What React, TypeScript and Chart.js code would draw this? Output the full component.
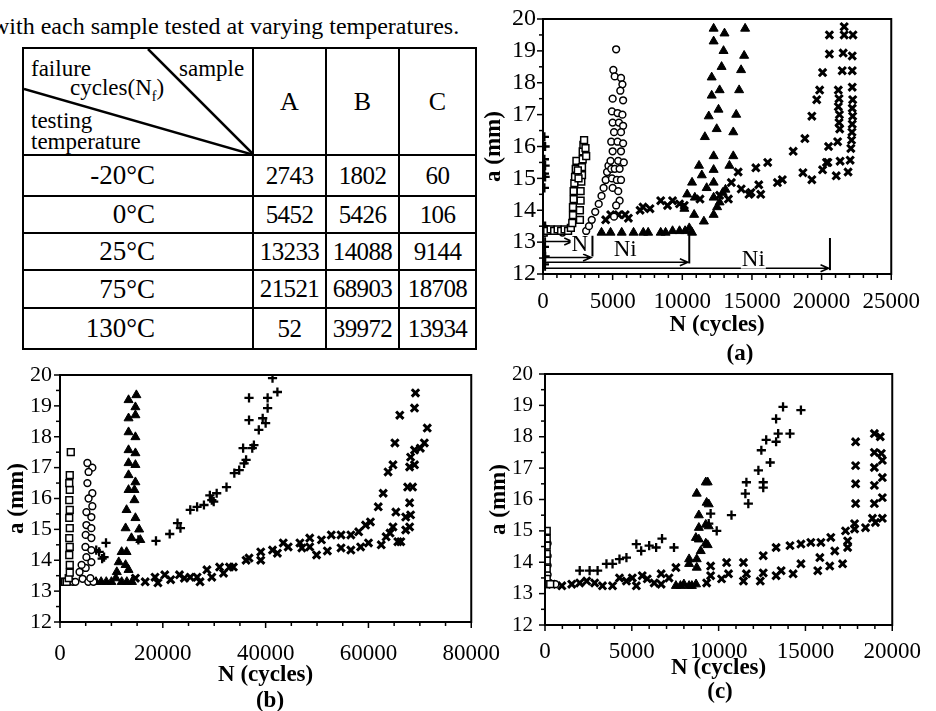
import React, { useEffect, useRef } from "react";
import { Chart, registerables } from "chart.js";

Chart.register(...registerables);

const FONT = '"Liberation Serif", "DejaVu Serif", serif';

type Pt = [number, number];

// ---------- Table data ----------
const introText = "with each sample tested at varying temperatures.";
const temperatures = ["-20°C", "0°C", "25°C", "75°C", "130°C"];
const samples = ["A", "B", "C"];
const failureCyclesA = [2743, 5452, 13233, 21521, 52];
const failureCyclesB = [1802, 5426, 14088, 68903, 39972];
const failureCyclesC = [60, 106, 9144, 18708, 13934];

// ---------- Axis ticks ----------
const yMin = 12;
const yMax = 20;
const xMaxA = 25000;
const xMaxB = 80000;
const xMaxC = 20000;

// ---------- Sample A (panel a) ----------
const sampleA_m20: Pt[] = [
  [50, 13.3], [300, 13.35], [550, 13.4], [800, 13.35], [1050, 13.4], [1300, 13.35], [1550, 13.4], [1800, 13.35], [2000, 13.45],
  [2100, 13.6], [2150, 13.85], [2150, 14.1], [2200, 14.35], [2200, 14.6], [2250, 14.85], [2300, 15.05], [2350, 15.3], [2400, 15.55],
  [2650, 13.7], [2650, 14.0], [2700, 14.3], [2700, 14.6], [2750, 14.9], [2800, 15.1], [2800, 15.35], [2850, 15.6], [2850, 15.85],
  [2900, 16.05], [2950, 16.2], [3050, 15.95], [3100, 15.7], [2550, 15.0], [2500, 15.25],
];
const sampleA_0: Pt[] = [
  [100, 13.3], [700, 13.35], [1400, 13.3],
  [3100, 13.35], [3300, 13.5], [3500, 13.7], [3750, 13.95], [4000, 14.2], [4200, 14.45], [4350, 14.7], [4500, 14.95], [4600, 15.2],
  [4700, 15.4], [4850, 15.55], [4900, 15.3], [4950, 15.0], [5000, 14.7], [5250, 19.05], [5050, 18.4], [5150, 18.2], [5600, 18.15],
  [5700, 17.95], [5000, 17.5], [5550, 17.75], [5750, 17.45], [4950, 17.1], [5350, 17.05], [5700, 17.0], [5000, 16.75], [5450, 16.75],
  [5750, 16.65], [5100, 16.45], [5600, 16.45], [4900, 16.15], [5350, 16.15], [5750, 16.1], [5000, 15.85], [5600, 15.85], [5400, 15.55],
  [5800, 15.5], [5150, 15.3], [5500, 15.3], [5300, 14.95], [5600, 14.95], [5400, 14.6], [5500, 14.3], [5250, 14.15], [5100, 13.8],
];
const sampleA_25: Pt[] = [
  [4200, 13.3], [4850, 13.3], [5650, 13.3], [6500, 13.3], [7200, 13.3], [7550, 13.3], [8450, 13.3], [8800, 13.3], [9300, 13.35],
  [9800, 13.35], [10200, 13.35], [10700, 13.3], [10500, 13.44], [10850, 13.86], [10150, 14.05], [11550, 13.65], [12250, 13.86],
  [10350, 14.5], [10900, 14.4], [11750, 14.7], [12250, 14.4], [12680, 14.25], [10700, 14.87], [12250, 14.87], [11200, 15.4],
  [11400, 15.1], [12250, 15.27], [13380, 15.4], [12250, 15.7], [13660, 15.7], [11620, 16.3], [13660, 16.45], [12470, 16.55],
  [11900, 16.95], [12600, 17.16], [13870, 17.0], [12110, 17.6], [12680, 17.77], [14080, 17.77], [12110, 18.17], [12820, 18.5],
  [14220, 18.4], [12960, 19.0], [14440, 18.85], [12250, 19.3], [12250, 19.7], [13030, 19.55], [14510, 19.7], [12900, 14.55],
  [13100, 14.65], [12500, 14.1],
];
const sampleA_75: Pt[] = [
  [4500, 13.7], [4860, 13.86], [5420, 13.86], [5900, 13.86], [6130, 13.75], [6970, 14.0], [7180, 14.1], [7680, 14.05], [8450, 14.3],
  [8940, 14.15], [9300, 14.3], [9800, 14.2], [10140, 14.15], [11270, 14.35], [12680, 14.47], [13310, 14.35], [13520, 14.87],
  [14010, 15.2], [14230, 14.67], [14790, 14.5], [14930, 14.56], [15280, 15.33], [15490, 14.8], [15630, 14.5], [16130, 15.5],
  [16830, 14.87], [17180, 14.96], [17960, 15.85], [18660, 15.18], [18800, 16.25], [19300, 14.96], [19300, 16.95], [19650, 17.47],
  [19860, 17.77], [20070, 18.32], [20070, 15.27], [20350, 15.5], [20560, 19.5], [20560, 18.9], [20500, 16.0], [20450, 15.5],
  [21620, 19.76], [21620, 19.5], [21550, 18.93], [21480, 18.38], [21200, 17.77], [21250, 17.5], [21200, 17.25], [21280, 17.0],
  [21250, 16.75], [21300, 16.55], [21150, 16.15], [21330, 15.54], [21050, 15.08], [22250, 19.5], [22200, 18.84], [22200, 18.38],
  [22200, 17.86], [22230, 17.47], [22200, 17.2], [22230, 16.95], [22200, 16.7], [22180, 16.45], [22150, 16.2], [22100, 15.94],
  [22050, 15.57], [21900, 15.2],
];
const sampleA_130: Pt[] = [
  [100, 16.3], [150, 16.0], [100, 15.6], [150, 15.4], [100, 15.15], [150, 15.05], [100, 14.7], [150, 13.5], [100, 13.3],
  [200, 13.4], [100, 12.85], [150, 12.55], [100, 12.3],
];

// Crack initiation (Ni) markers of panel (a)
const niArrowStartA = 150;
const niArrowEndA = [2100, 3450, 10400, 20500];
const niArrowLevelA = [13.02, 12.52, 12.37, 12.18];
const niBarXA = [150, 3550, 10500, 20600];
const niBarLowA = [12.1, 12.55, 12.33, 12.12];
const niBarHighA = [13.15, 13.2, 13.35, 13.13];
const niLabelTextA = ["N", "Ni", "Ni"];
const niLabelXA = [2650, 5900, 15100];
const niLabelYA = [12.92, 12.75, 12.45];

// ---------- Sample B (panel b) ----------
const sampleB_m20: Pt[] = [
  [380, 13.3], [700, 13.3], [1000, 13.3], [1300, 13.3], [1700, 13.42], [1900, 13.6], [1900, 13.85], [1800, 14.17], [1900, 14.43],
  [1800, 14.72], [1900, 15.04], [1800, 15.37], [1900, 15.63], [1800, 15.95], [1900, 16.28], [1800, 16.5], [1900, 16.76], [2100, 17.5],
];
const sampleB_0: Pt[] = [
  [2500, 13.3], [3000, 13.3], [4400, 13.4], [5500, 13.3], [6500, 13.3], [5330, 17.15], [6290, 17.0], [5560, 16.86], [5330, 16.5],
  [6290, 16.17], [5560, 16.0], [6290, 15.75], [5140, 15.56], [6100, 15.4], [5140, 15.14], [6100, 15.04], [5000, 14.82],
  [6100, 14.72], [4950, 14.43], [6100, 14.33], [5140, 14.1], [6100, 13.94], [5000, 13.75], [4200, 13.85], [3800, 13.62], [5900, 13.42],
];
const sampleB_25: Pt[] = [
  [6000, 13.3], [7000, 13.3], [8000, 13.3], [9000, 13.3], [10000, 13.3], [12000, 13.3], [13000, 13.3], [14000, 13.3],
  [10860, 13.42], [11050, 13.62], [13335, 13.69], [12760, 13.85], [11430, 13.94], [11990, 14.27], [12950, 14.27], [13900, 14.72],
  [15620, 14.66], [15400, 15.0], [12760, 15.04], [14670, 15.37], [12950, 15.63], [14480, 15.95], [14480, 16.28], [13335, 16.28],
  [14670, 16.53], [13335, 16.76], [14670, 17.09], [13335, 17.15], [14670, 17.47], [13335, 17.57], [14670, 17.99], [13335, 18.15],
  [13335, 18.6], [14670, 18.7], [14670, 18.96], [13335, 19.19], [14860, 19.35],
];
const sampleB_75: Pt[] = [
  [14670, 13.42], [16570, 13.3], [18480, 13.45], [19050, 13.27], [20380, 13.53], [21530, 13.37], [23240, 13.53], [24190, 13.42],
  [25340, 13.45], [26670, 13.45], [27240, 13.3], [28580, 13.69], [29530, 13.45], [31050, 13.78], [31810, 13.58], [32960, 13.78],
  [33720, 13.78], [36200, 14.0], [36770, 14.07], [39050, 14.27], [39050, 14.0], [41340, 14.33], [42290, 14.23], [43430, 14.56],
  [44390, 14.43], [46670, 14.56], [47050, 14.4], [48580, 14.72], [48580, 14.43], [49910, 14.17], [50860, 14.66], [52010, 14.3],
  [52770, 14.82], [54670, 14.4], [54670, 14.82], [56580, 14.33], [56580, 14.82], [58480, 14.43], [58100, 14.92], [59440, 15.14],
  [60010, 14.56], [60390, 15.24], [61910, 15.73], [62490, 14.5], [62870, 16.17], [63440, 14.76], [64200, 14.88], [63820, 16.86],
  [64770, 17.09], [65150, 17.8], [64770, 15.08], [65340, 15.56], [65720, 14.6], [66290, 14.6], [66100, 18.7], [67250, 15.4],
  [67250, 14.98], [67630, 16.37], [68580, 16.37], [68010, 17.02], [68960, 17.09], [68200, 17.34], [68960, 17.57], [68960, 18.93],
  [69150, 19.42], [68010, 15.86], [68200, 15.47], [68010, 15.08], [70100, 17.63], [70870, 17.8], [71440, 18.28],
];
const sampleB_130: Pt[] = [
  [7050, 14.33], [7620, 14.27], [8570, 14.1], [8950, 14.56], [8200, 14.05], [15240, 14.66], [18670, 14.63], [21340, 14.85],
  [22860, 15.2], [23430, 15.04], [25340, 15.63], [26670, 15.73], [28000, 15.79], [29150, 16.1], [29530, 15.95], [30480, 16.17],
  [29900, 15.9], [32390, 16.37], [33910, 16.82], [34860, 16.92], [35810, 17.14], [35620, 17.63], [36200, 17.25], [36770, 18.54],
  [36770, 19.26], [37720, 17.73], [37400, 17.63], [38670, 18.22], [39430, 18.6], [40000, 18.44], [40390, 18.93], [40390, 19.26],
  [41340, 19.9], [42290, 19.45],
];

// ---------- Sample C (panel c) ----------
const sampleC_m20: Pt[] = [
  [100, 15.0], [100, 14.75], [100, 14.53], [100, 14.27], [100, 14.05], [100, 13.8], [100, 13.47], [100, 13.3], [300, 13.3],
];
const sampleC_0: Pt[] = [
  [150, 14.6], [150, 14.2], [150, 13.9], [150, 13.6], [250, 13.35], [600, 13.3],
];
const sampleC_25: Pt[] = [
  [7540, 13.25], [7800, 13.25], [8000, 13.3], [8300, 13.25], [8460, 13.25], [8700, 13.3], [8740, 13.83], [8300, 13.95],
  [8300, 14.1], [8740, 14.1], [8970, 14.36], [9370, 14.55], [9260, 14.6], [8860, 14.73], [8690, 14.78], [9430, 15.15], [9260, 15.2],
  [8860, 15.1], [8860, 15.5], [9430, 15.85], [9310, 15.9], [8740, 16.19], [9260, 16.55], [9370, 16.55],
];
const sampleC_75: Pt[] = [
  [400, 13.3], [970, 13.25], [1540, 13.3], [2000, 13.34], [2400, 13.4], [2860, 13.34], [3310, 13.25], [3890, 13.25], [4290, 13.5],
  [4690, 13.4], [5030, 13.5], [5260, 13.25], [5600, 13.57], [5890, 13.47], [6290, 13.34], [6690, 13.63], [6690, 13.3], [7140, 13.5],
  [7540, 13.83], [9310, 13.34], [9540, 13.57], [9540, 13.88], [10170, 13.47], [10460, 13.99], [10570, 13.63], [11430, 13.4],
  [11430, 13.99], [11600, 13.63], [12400, 13.4], [12570, 14.21], [12570, 13.66], [13310, 13.57], [13310, 14.47], [13600, 13.73],
  [14110, 14.53], [14290, 13.63], [14740, 14.58], [14740, 13.95], [15310, 14.63], [15710, 13.73], [15890, 14.63], [15830, 14.15],
  [16400, 13.88], [16460, 14.79], [16690, 14.36], [17140, 13.95], [17310, 15.0], [17430, 14.68], [17430, 14.47], [17830, 15.06],
  [17890, 17.84], [17890, 17.08], [17890, 16.5], [17890, 15.87], [17830, 15.23], [18460, 15.1], [18860, 15.4], [18970, 18.1],
  [18970, 17.5], [18970, 17.02], [18970, 16.45], [18970, 15.87], [19030, 15.27], [19310, 18.0], [19370, 17.47], [19430, 17.25],
  [19430, 16.7], [19430, 16.06], [19430, 15.4],
];
const sampleC_130: Pt[] = [
  [2000, 13.73], [2570, 13.73], [3030, 13.73], [3540, 13.95], [3890, 13.95], [4290, 14.1], [4690, 14.15], [5260, 14.58],
  [5540, 14.36], [6000, 14.53], [6400, 14.47], [6740, 14.75], [7430, 14.47], [9540, 15.55], [9430, 15.23], [9890, 15.0],
  [10740, 15.5], [11540, 16.19], [11710, 15.87], [11600, 16.55], [12290, 16.93], [12570, 16.38], [12570, 16.55], [12460, 17.57],
  [12740, 17.9], [12970, 17.18], [13310, 17.84], [13430, 18.1], [13310, 18.57], [13710, 18.95], [14110, 18.1], [14740, 18.85],
];

// ---------- Marker styles, one per testing temperature ----------
const markerStyles = [
  { pointStyle: "rect", radius: 4.8, fill: "#ffffff", width: 1.5 },
  { pointStyle: "circle", radius: 3.4, fill: "#ffffff", width: 1.5 },
  { pointStyle: "triangle", radius: 5.2, fill: "#000000", width: 1 },
  { pointStyle: "crossRot", radius: 5.2, fill: "#000000", width: 3 },
  { pointStyle: "cross", radius: 4.6, fill: "#000000", width: 2.3 },
];

function makeDatasets(series: Pt[][]) {
  return series.map((pts, i) => ({
    label: temperatures[i],
    data: pts.map(([x, y]) => ({ x, y })),
    showLine: false,
    pointStyle: markerStyles[i].pointStyle as any,
    pointRadius: markerStyles[i].radius,
    pointHoverRadius: markerStyles[i].radius,
    pointBackgroundColor: markerStyles[i].fill,
    pointBorderColor: "#000000",
    pointBorderWidth: markerStyles[i].width,
  }));
}

// Frame + outward tick marks (major / minor)
const frameTicksPlugin = {
  id: "frameTicks",
  afterDraw(chart: any, _args: any, opts: any) {
    const { ctx, chartArea: ca, scales } = chart;
    const xs = scales.x;
    const ys = scales.y;
    ctx.save();
    ctx.strokeStyle = "#000";
    ctx.lineWidth = 2;
    ctx.strokeRect(ca.left, ca.top, ca.right - ca.left, ca.bottom - ca.top);
    ctx.lineWidth = 1.5;
    const nx = Math.round((xs.max - xs.min) / opts.xMinor);
    for (let i = 0; i <= nx; i++) {
      const v = xs.min + i * opts.xMinor;
      const px = xs.getPixelForValue(v);
      const r = v / opts.xMajor;
      const major = Math.abs(r - Math.round(r)) < 1e-6;
      ctx.beginPath();
      ctx.moveTo(px, ca.bottom);
      ctx.lineTo(px, ca.bottom + (major ? 6 : 4));
      ctx.stroke();
    }
    const ny = Math.round((ys.max - ys.min) / opts.yMinor);
    for (let i = 0; i <= ny; i++) {
      const v = ys.min + i * opts.yMinor;
      const py = ys.getPixelForValue(v);
      const r = v / opts.yMajor;
      const major = Math.abs(r - Math.round(r)) < 1e-6;
      ctx.beginPath();
      ctx.moveTo(ca.left, py);
      ctx.lineTo(ca.left - (major ? 6 : 4), py);
      ctx.stroke();
    }
    ctx.restore();
  },
};

// Ni arrows for panel (a)
const niPlugin = {
  id: "niArrows",
  afterDatasetsDraw(chart: any) {
    const { ctx, scales } = chart;
    const xs = scales.x;
    const ys = scales.y;
    ctx.save();
    ctx.strokeStyle = "#000";
    ctx.fillStyle = "#000";
    ctx.lineWidth = 1.6;
    const x0 = xs.getPixelForValue(niArrowStartA);
    niArrowEndA.forEach((xe, i) => {
      const x1 = xs.getPixelForValue(xe);
      const y = ys.getPixelForValue(niArrowLevelA[i]);
      ctx.beginPath();
      ctx.moveTo(x0, y);
      ctx.lineTo(x1, y);
      ctx.moveTo(x1 - 8, y - 3.5);
      ctx.lineTo(x1, y);
      ctx.lineTo(x1 - 8, y + 3.5);
      ctx.stroke();
    });
    ctx.lineWidth = 2;
    niBarXA.forEach((xb, i) => {
      const px = xs.getPixelForValue(xb);
      ctx.beginPath();
      ctx.moveTo(px, ys.getPixelForValue(niBarLowA[i]));
      ctx.lineTo(px, ys.getPixelForValue(niBarHighA[i]));
      ctx.stroke();
    });
    ctx.font = `23px ${FONT}`;
    ctx.textAlign = "center";
    ctx.textBaseline = "middle";
    niLabelTextA.forEach((t, i) => {
      const px = xs.getPixelForValue(niLabelXA[i]);
      const py = ys.getPixelForValue(niLabelYA[i]);
      ctx.fillStyle = "#fff";
      const w = ctx.measureText(t).width;
      ctx.fillRect(px - w / 2 - 1, py - 9, w + 2, 18);
      ctx.fillStyle = "#000";
      ctx.fillText(t, px, py);
    });
    ctx.restore();
  },
};

type PanelCfg = {
  left: number;
  top: number;
  width: number;
  height: number;
  padTop: number;
  padRight: number;
  yAxisW: number;
  xAxisH: number;
  xTickPad: number;
  yTickPad: number;
  yTickSize: number;
  yTitlePad: number;
  xMax: number;
  xStep: number;
  xMinor: number;
  arrows?: boolean;
};

function ScatterPanel({ series, cfg }: { series: Pt[][]; cfg: PanelCfg }) {
  const ref = useRef<HTMLCanvasElement>(null);
  useEffect(() => {
    const chart = new Chart(ref.current as HTMLCanvasElement, {
      type: "scatter",
      data: { datasets: makeDatasets(series) as any },
      options: {
        responsive: false,
        animation: false,
        events: [],
        layout: { padding: { left: 0, top: cfg.padTop, right: cfg.padRight, bottom: 0 } },
        plugins: {
          legend: { display: false },
          tooltip: { enabled: false },
          frameTicks: { xMinor: cfg.xMinor, xMajor: cfg.xStep, yMinor: 0.5, yMajor: 1 },
        } as any,
        scales: {
          x: {
            type: "linear",
            min: 0,
            max: cfg.xMax,
            grid: { display: false, drawTicks: false },
            border: { display: false },
            ticks: {
              stepSize: cfg.xStep,
              autoSkip: false,
              maxRotation: 0,
              color: "#000",
              padding: cfg.xTickPad,
              font: { family: FONT, size: 23, lineHeight: 1 },
              callback: (v: any) => String(v),
            },
            title: {
              display: true,
              text: "N (cycles)",
              color: "#000",
              padding: 0,
              font: { family: FONT, size: 23, weight: "bold", lineHeight: 1.2 },
            },
            afterFit: (s: any) => {
              s.height = cfg.xAxisH;
            },
          },
          y: {
            type: "linear",
            min: yMin,
            max: yMax,
            grid: { display: false, drawTicks: false },
            border: { display: false },
            ticks: {
              stepSize: 1,
              color: "#000",
              padding: cfg.yTickPad,
              font: { family: FONT, size: cfg.yTickSize, lineHeight: 1 },
              callback: (v: any) => String(v),
            },
            title: {
              display: true,
              text: "a (mm)",
              color: "#000",
              padding: cfg.yTitlePad,
              font: { family: FONT, size: 23, weight: "bold", lineHeight: 1.2 },
            },
            afterFit: (s: any) => {
              s.width = cfg.yAxisW;
            },
          },
        },
      },
      plugins: cfg.arrows ? [frameTicksPlugin, niPlugin] : [frameTicksPlugin],
    });
    return () => chart.destroy();
  }, []);
  return (
    <canvas
      ref={ref}
      width={cfg.width}
      height={cfg.height}
      style={{ position: "absolute", left: cfg.left, top: cfg.top, width: cfg.width, height: cfg.height }}
    />
  );
}

const panelA: PanelCfg = {
  left: 470, top: 0, width: 466, height: 339, padTop: 12, padRight: 37, yAxisW: 73, xAxisH: 65,
  xTickPad: 16, yTickPad: 7, yTickSize: 24, yTitlePad: 10, xMax: xMaxA, xStep: 5000, xMinor: 1000, arrows: true,
};
const panelB: PanelCfg = {
  left: 0, top: 350, width: 520, height: 339, padTop: 25, padRight: 40, yAxisW: 60, xAxisH: 67,
  xTickPad: 20, yTickPad: 8, yTickSize: 22, yTitlePad: 3, xMax: xMaxB, xStep: 20000, xMinor: 5000,
};
const panelC: PanelCfg = {
  left: 480, top: 350, width: 456, height: 332, padTop: 24, padRight: 41, yAxisW: 65, xAxisH: 57,
  xTickPad: 15, yTickPad: 12, yTickSize: 21, yTitlePad: 5, xMax: xMaxC, xStep: 5000, xMinor: 1000,
};

const captionStyle: React.CSSProperties = {
  position: "absolute",
  fontFamily: FONT,
  fontWeight: "bold",
  fontSize: 23,
  lineHeight: "23px",
  transform: "translate(-50%, -50%)",
  whiteSpace: "nowrap",
};

const cellBorder = "2px solid #000";

function FailureTable() {
  const rows = temperatures.map((t, i) => [t, failureCyclesA[i], failureCyclesB[i], failureCyclesC[i]]);
  const rowHeights = [41, 37, 37, 38, 41];
  const headText: React.CSSProperties = { position: "absolute", fontSize: 23, lineHeight: "23px", whiteSpace: "nowrap" };
  return (
    <table
      style={{
        position: "absolute",
        left: 22,
        top: 47,
        width: 453,
        borderCollapse: "collapse",
        tableLayout: "fixed",
        fontFamily: FONT,
        color: "#000",
      }}
    >
      <colgroup>
        <col style={{ width: 230 }} />
        <col style={{ width: 73 }} />
        <col style={{ width: 73 }} />
        <col style={{ width: 77 }} />
      </colgroup>
      <tbody>
        <tr style={{ height: 107 }}>
          <td style={{ border: cellBorder, padding: 0, position: "relative", height: 105 }}>
            <div style={{ position: "relative", width: "100%", height: 105 }}>
              <svg width="230" height="107" style={{ position: "absolute", left: 0, top: 0 }}>
                <line x1="124" y1="0" x2="230" y2="106" stroke="#000" strokeWidth="2.5" />
                <line x1="0" y1="40" x2="230" y2="106" stroke="#000" strokeWidth="2.5" />
              </svg>
              <span style={{ ...headText, left: 7, top: 8 }}>failure</span>
              <span style={{ ...headText, left: 46, top: 27 }}>
                cycles(N<sub style={{ fontSize: 14 }}>f</sub>)
              </span>
              <span style={{ ...headText, left: 155, top: 8 }}>sample</span>
              <span style={{ ...headText, left: 7, top: 60 }}>testing</span>
              <span style={{ ...headText, left: 7, top: 81 }}>temperature</span>
            </div>
          </td>
          {samples.map((s) => (
            <td key={s} style={{ border: cellBorder, textAlign: "center", fontSize: 26, padding: 0 }}>
              {s}
            </td>
          ))}
        </tr>
        {rows.map((r, i) => (
          <tr key={i} style={{ height: rowHeights[i] }}>
            {r.map((c, j) => (
              <td
                key={j}
                style={{
                  border: cellBorder,
                  textAlign: j === 0 ? "right" : "center",
                  fontSize: j === 0 ? 27 : 25,
                  padding: j === 0 ? "0 97px 0 0" : 0,
                  letterSpacing: j === 0 ? 0 : -0.6,
                  whiteSpace: "nowrap",
                }}
              >
                {c}
              </td>
            ))}
          </tr>
        ))}
      </tbody>
    </table>
  );
}

export default function App() {
  return (
    <div
      style={{
        position: "absolute",
        left: 0,
        top: 0,
        width: 936,
        height: 711,
        overflow: "hidden",
        background: "#fff",
        fontFamily: FONT,
        color: "#000",
      }}
    >
      <div style={{ position: "absolute", left: -8, top: 14, fontSize: 24, lineHeight: "24px", whiteSpace: "nowrap" }}>
        {introText}
      </div>
      <FailureTable />
      <ScatterPanel series={[sampleA_m20, sampleA_0, sampleA_25, sampleA_75, sampleA_130]} cfg={panelA} />
      <ScatterPanel series={[sampleB_m20, sampleB_0, sampleB_25, sampleB_75, sampleB_130]} cfg={panelB} />
      <ScatterPanel series={[sampleC_m20, sampleC_0, sampleC_25, sampleC_75, sampleC_130]} cfg={panelC} />
      <div style={{ ...captionStyle, left: 740, top: 352 }}>(a)</div>
      <div style={{ ...captionStyle, left: 270, top: 699 }}>(b)</div>
      <div style={{ ...captionStyle, left: 720, top: 690 }}>(c)</div>
    </div>
  );
}
